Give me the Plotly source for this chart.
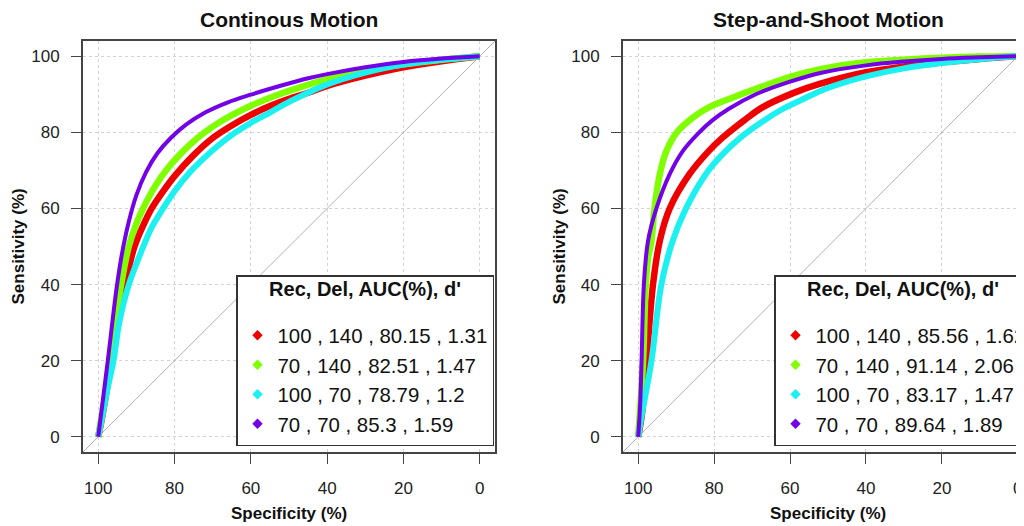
import plotly.graph_objects as go

# ---------------- data ----------------
LEGEND_TITLE = "Rec, Del, AUC(%), d'"
TICKS = [0, 20, 40, 60, 80, 100]
DIAG = [104, -4]  # chance line end points (specificity); sensitivity = 100 - spec

PANEL_TITLES = ["Continous Motion", "Step-and-Shoot Motion"]
X_TITLE = "Specificity (%)"
Y_TITLE = "Sensitivity (%)"

cont_labels = ["100 , 140 , 80.15 , 1.31", "70 , 140 , 82.51 , 1.47",
               "100 , 70 , 78.79 , 1.2", "70 , 70 , 85.3 , 1.59"]
step_labels = ["100 , 140 , 85.56 , 1.62", "70 , 140 , 91.14 , 2.06",
               "100 , 70 , 83.17 , 1.47", "70 , 70 , 89.64 , 1.89"]

# Continuous motion
cont_red_spec = [100, 99, 97.5, 96.5, 95, 93, 90.5, 88, 86, 83, 80, 75, 70, 65, 60, 55, 50, 45, 40, 30, 20, 10, 0]
cont_red_sens = [0, 5, 14, 20, 30, 40, 50, 56, 60, 64.5, 68.5, 74, 78.5, 81.8, 84.6, 86.9, 88.8, 90.4, 92.2, 94.9, 97.1, 98.7, 100]
cont_green_spec = [100, 99, 97, 95.5, 94, 92, 90, 88, 85, 82, 78, 74, 70, 65, 60, 52, 45, 40, 30, 20, 10, 0]
cont_green_sens = [0, 6, 18, 30, 40, 50, 56, 60.5, 66, 70.3, 74.8, 78.5, 81.5, 84.5, 87, 90.2, 92.5, 94, 96.3, 97.9, 99.1, 100]
cont_cyan_spec = [100, 99, 97.5, 96, 94.5, 92, 89, 86, 83, 80, 76, 72, 68, 64, 60, 55, 50, 45, 40, 30, 20, 10, 0]
cont_cyan_sens = [0, 5, 13, 20, 30, 40, 48, 55, 60, 64.5, 69.5, 73.5, 77, 80, 82.5, 85.2, 88, 90.4, 92.6, 95.7, 97.8, 99.1, 100]
cont_purple_spec = [100, 97.5, 95.2, 93.8, 92, 90, 87.5, 84.5, 81, 77, 72, 66, 60, 52, 45, 40, 30, 20, 10, 0]
cont_purple_sens = [0, 20, 39, 48, 56.5, 63.5, 69.5, 74.5, 78.5, 82, 85.2, 87.9, 89.9, 92.3, 94.2, 95.3, 97.1, 98.5, 99.4, 100]

# Step-and-shoot motion
step_red_spec = [100, 99, 97.8, 96.1, 94.3, 91.7, 86.5, 81.5, 78, 72, 67.4, 58.7, 52, 40, 30, 20, 10, 0]
step_red_sens = [0, 6, 20, 40, 51.5, 60, 69, 75, 78.4, 83.2, 86.5, 90.5, 92.8, 95.8, 97.3, 98.4, 99.3, 100]
step_green_spec = [100, 99.3, 98.7, 98, 97.4, 96.5, 95.7, 94.3, 92.6, 89.8, 85.7, 81.3, 75.2, 67.4, 60, 52, 40, 30, 20, 10, 0]
step_green_sens = [0, 10, 20, 40, 47, 51.5, 60, 69, 75, 80, 83.8, 86.6, 89.1, 92, 94.6, 96.6, 98.4, 99.1, 99.6, 99.9, 100]
step_cyan_spec = [100, 99, 96.5, 93.9, 90.9, 87.4, 82.2, 78, 72.6, 67, 62.2, 56, 51.7, 45, 40, 30, 20, 10, 0]
step_cyan_sens = [0, 6, 20, 40, 51.5, 60, 69, 74, 79, 83, 86, 89, 91, 93.3, 94.7, 96.8, 98.2, 99.2, 100]
step_purple_spec = [100, 99.5, 99.1, 98.5, 97.4, 95.2, 91.7, 88.3, 84.3, 80.4, 76.1, 69, 60, 52, 40, 30, 20, 10, 0]
step_purple_sens = [0, 8, 20, 40, 51.5, 60, 69, 75, 79.6, 83.2, 86.2, 90, 93.3, 95.6, 97.6, 98.6, 99.3, 99.7, 100]

# ---------------- style ----------------
COLORS = ["#EE0000", "#80FF00", "#1CF0F0", "#7400E8"]
WIDTHS = [6.5, 6.5, 6, 4]
FONT = "Liberation Sans, Arial, sans-serif"

# The page body has an 8 px margin; screen pixel s maps to figure pixel s - OFF.
OFF = 8
W, H = 1040, 526

panels = [
    dict(xa="x", ya="y", legend="legend", labels=cont_labels,
         curves=[(cont_red_spec, cont_red_sens), (cont_green_spec, cont_green_sens),
                 (cont_cyan_spec, cont_cyan_sens), (cont_purple_spec, cont_purple_sens)]),
    dict(xa="x2", ya="y2", legend="legend2", labels=step_labels,
         curves=[(step_red_spec, step_red_sens), (step_green_spec, step_green_sens),
                 (step_cyan_spec, step_cyan_sens), (step_purple_spec, step_purple_sens)]),
]

fig = go.Figure()
for p in panels:
    fig.add_trace(go.Scatter(x=DIAG, y=[100 - v for v in DIAG], mode="lines",
                             line=dict(color="#b0b0b0", width=1), xaxis=p["xa"], yaxis=p["ya"],
                             showlegend=False, hoverinfo="skip"))
    for (sx, sy), c, w in zip(p["curves"], COLORS, WIDTHS):
        fig.add_trace(go.Scatter(x=sx, y=sy, mode="lines",
                                 line=dict(color=c, width=w, shape="spline", smoothing=1.0),
                                 xaxis=p["xa"], yaxis=p["ya"], showlegend=False))
    for lab, c in zip(p["labels"], COLORS):
        fig.add_trace(go.Scatter(x=[None], y=[None], mode="markers", name=lab,
                                 marker=dict(symbol="diamond", size=8, color=c),
                                 xaxis=p["xa"], yaxis=p["ya"], legend=p["legend"]))

# screen-pixel geometry of the plot boxes
L1, R1 = 83, 495
L2, R2 = 623, 1033
TOP, BOT = 41, 452


def px(v):
    return (v - OFF) / W


def py(v):
    return 1 - (v - OFF) / H


axis_common = dict(
    tickvals=TICKS, ticks="outside", ticklen=10, tickwidth=1, tickcolor="#444",
    showgrid=True, gridcolor="#d4d4d4", griddash="dot", gridwidth=1,
    zeroline=False, showline=True, linecolor="#444", linewidth=1.8, mirror=True,
    tickfont=dict(size=17, color="#222", family=FONT),
)

fig.update_layout(
    width=W, height=H,
    margin=dict(l=0, r=0, t=0, b=0, autoexpand=False),
    plot_bgcolor="white", paper_bgcolor="white",
    font=dict(family=FONT, color="#111"),
    xaxis=dict(domain=[px(L1), px(R1)], range=[104, -4], anchor="y",
               ticklabelstandoff=10, **axis_common),
    yaxis=dict(domain=[py(BOT), py(TOP)], range=[-4, 104], anchor="x",
               ticklabelstandoff=8, **axis_common),
    xaxis2=dict(domain=[px(L2), px(R2)], range=[104, -4], anchor="y2",
                ticklabelstandoff=10, **axis_common),
    yaxis2=dict(domain=[py(BOT), py(TOP)], range=[-4, 104], anchor="x2",
                ticklabelstandoff=8, **axis_common),
)

legend_common = dict(
    bgcolor="white", bordercolor="#333", borderwidth=1.5,
    font=dict(size=20.4, color="#111", family=FONT),
    title=dict(text="<b><span style='font-size:20px'>" + LEGEND_TITLE + "</span></b><br> ",
               side="top center", font=dict(size=15, family=FONT, color="#111")),
    yanchor="top", y=py(275), tracegroupgap=0,
)
fig.update_layout(
    legend=dict(xanchor="right", x=px(R1 - 1), **legend_common),
    legend2=dict(xanchor="left", x=px(774), **legend_common),
)

annotations = []
for (l, r), t in zip([(L1, R1), (L2, R2)], PANEL_TITLES):
    cx = px((l + r) / 2)
    annotations.append(dict(text="<b>" + t + "</b>", x=cx, y=py(20), xref="paper", yref="paper",
                            showarrow=False, xanchor="center", yanchor="middle",
                            font=dict(size=21, color="#111", family=FONT)))
    annotations.append(dict(text="<b>" + X_TITLE + "</b>", x=cx, y=py(513), xref="paper", yref="paper",
                            showarrow=False, xanchor="center", yanchor="middle",
                            font=dict(size=17, color="#111", family=FONT)))
for xpos in [18, 559]:
    annotations.append(dict(text="<b>" + Y_TITLE + "</b>", x=px(xpos), y=py((TOP + BOT) / 2),
                            xref="paper", yref="paper", showarrow=False, textangle=-90,
                            xanchor="center", yanchor="middle",
                            font=dict(size=17, color="#111", family=FONT)))
fig.update_layout(annotations=annotations)

fig.write_html("out.html")
